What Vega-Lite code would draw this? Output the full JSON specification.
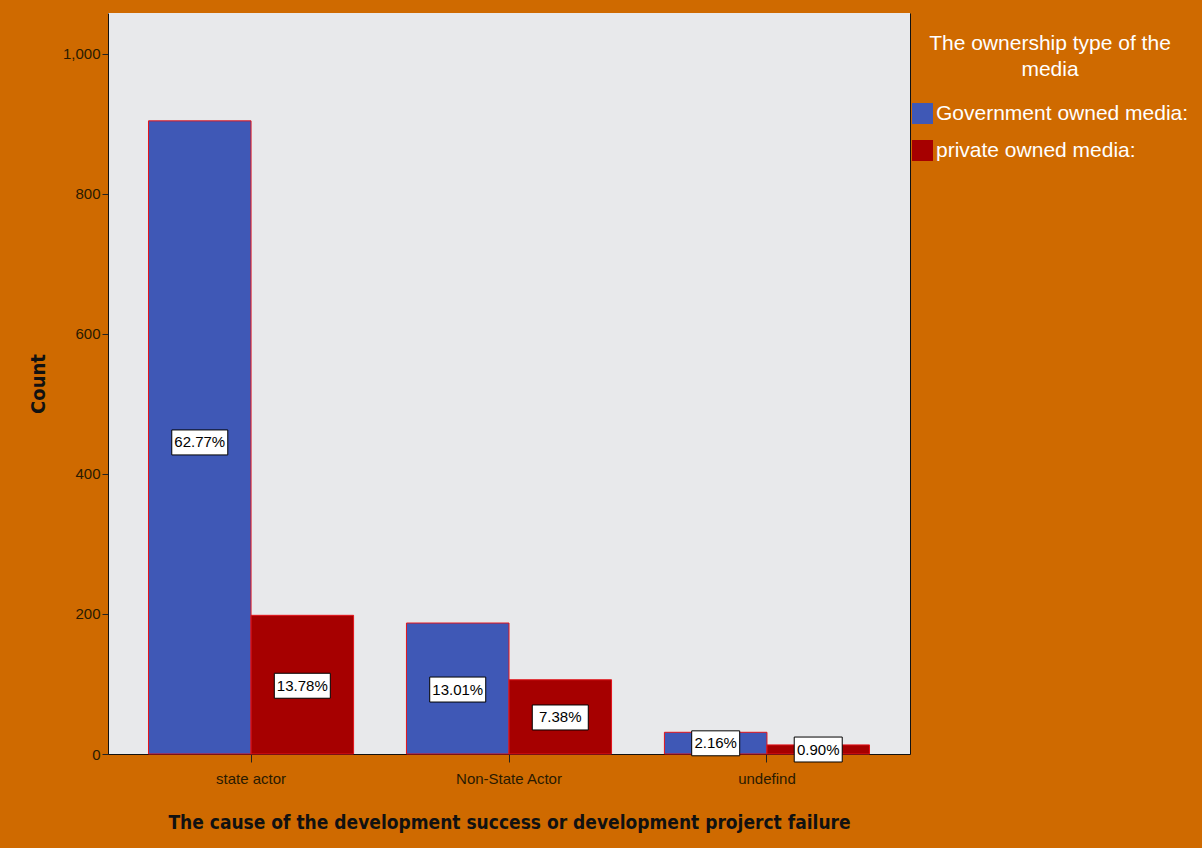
{
  "$schema": "https://vega.github.io/schema/vega-lite/v6.json",
  "width": 802,
  "height": 741,
  "autosize": {"type": "none"},
  "padding": {"left": 108, "top": 13, "right": 292, "bottom": 94},
  "background": "#CF6A00",
  "config": {
    "view": {"fill": "#E8E9EB", "stroke": null},
    "font": "Liberation Sans"
  },
  "data": {
    "values": [
      {"cause": "state actor", "ownership": "Government owned media:", "count": 904, "label": "62.77%"},
      {"cause": "state actor", "ownership": "private owned media:", "count": 198, "label": "13.78%"},
      {"cause": "Non-State Actor", "ownership": "Government owned media:", "count": 187, "label": "13.01%"},
      {"cause": "Non-State Actor", "ownership": "private owned media:", "count": 106, "label": "7.38%"},
      {"cause": "undefind", "ownership": "Government owned media:", "count": 31, "label": "2.16%"},
      {"cause": "undefind", "ownership": "private owned media:", "count": 13, "label": "0.90%"}
    ]
  },
  "encoding": {
    "x": {
      "field": "cause",
      "type": "nominal",
      "sort": ["state actor", "Non-State Actor", "undefind"],
      "scale": {"paddingInner": 0.205, "paddingOuter": 0.157},
      "axis": {
        "title": "The cause of the development success or development projerct failure",
        "titleFont": "DejaVu Sans Condensed",
        "titleFontSize": 19,
        "titleFontWeight": "bold",
        "titleColor": "#111111",
        "titlePadding": 27,
        "labelFont": "Liberation Sans",
        "labelFontSize": 15,
        "labelAngle": 0,
        "labelColor": "#2a1a00",
        "labelPadding": 9,
        "tickSize": 8,
        "tickColor": "#222222",
        "domainColor": "#111111"
      }
    },
    "xOffset": {
      "field": "ownership",
      "type": "nominal",
      "sort": ["Government owned media:", "private owned media:"],
      "scale": {"paddingInner": 0, "paddingOuter": 0}
    }
  },
  "layer": [
    {
      "mark": {"type": "bar", "stroke": "#E3141B", "strokeWidth": 1},
      "encoding": {
        "y": {
          "field": "count",
          "type": "quantitative",
          "scale": {"domain": [0, 1058], "nice": false},
          "axis": {
            "values": [0, 200, 400, 600, 800, 1000],
            "format": ",d",
            "title": "Count",
            "titleFont": "DejaVu Sans Condensed",
            "titleFontSize": 20,
            "titleFontWeight": "bold",
            "titleColor": "#111111",
            "titlePadding": 14,
            "labelFont": "Liberation Sans",
            "labelFontSize": 15,
            "labelColor": "#2a1a00",
            "labelPadding": 2,
            "tickSize": 6,
            "tickColor": "#222222",
            "domainColor": "#111111",
            "grid": false
          }
        },
        "color": {
          "field": "ownership",
          "type": "nominal",
          "sort": ["Government owned media:", "private owned media:"],
          "scale": {"range": ["#3F58B6", "#A60000"]},
          "legend": {
            "title": ["The ownership type of the", "media"],
            "orient": "none",
            "legendX": 804,
            "legendY": 20,
            "padding": 0,
            "titleFont": "Liberation Sans",
            "titleColor": "white",
            "titleFontSize": 21,
            "titleFontWeight": "normal",
            "titleAnchor": "middle",
            "titleAlign": "center",
            "titleLineHeight": 26,
            "titleLimit": 400,
            "titlePadding": 23,
            "labelFont": "Liberation Sans",
            "labelColor": "white",
            "labelFontSize": 21,
            "labelLimit": 400,
            "labelOffset": 3,
            "symbolType": "square",
            "symbolSize": 441,
            "symbolStrokeWidth": 0,
            "rowPadding": 15
          }
        }
      }
    },
    {
      "transform": [{"filter": "datum.count >= 100"}],
      "mark": {"type": "point", "shape": "M-1,-0.446H1V0.446H-1Z", "filled": true, "fill": "white", "stroke": "black", "strokeWidth": 1, "size": 3136, "opacity": 1},
      "encoding": {
        "y": {"field": "count", "type": "quantitative", "scale": {"domain": [0, 2150], "nice": false}, "axis": null}
      }
    },
    {
      "transform": [{"filter": "datum.count < 100"}],
      "mark": {"type": "point", "shape": "M-1,-0.52H1V0.52H-1Z", "filled": true, "fill": "white", "stroke": "black", "strokeWidth": 1, "size": 2304, "opacity": 1},
      "encoding": {
        "y": {"field": "count", "type": "quantitative", "scale": {"domain": [0, 2150], "nice": false}, "axis": null}
      }
    },
    {
      "mark": {"type": "text", "font": "Liberation Sans", "fontSize": 15, "color": "black", "baseline": "middle", "align": "center"},
      "encoding": {
        "y": {
          "field": "count",
          "type": "quantitative",
          "scale": {"domain": [0, 2150], "nice": false},
          "axis": {"orient": "right", "labels": false, "ticks": false, "title": null, "grid": false, "domainColor": "#111111"}
        },
        "text": {"field": "label"}
      }
    }
  ],
  "resolve": {"scale": {"y": "independent"}}
}
